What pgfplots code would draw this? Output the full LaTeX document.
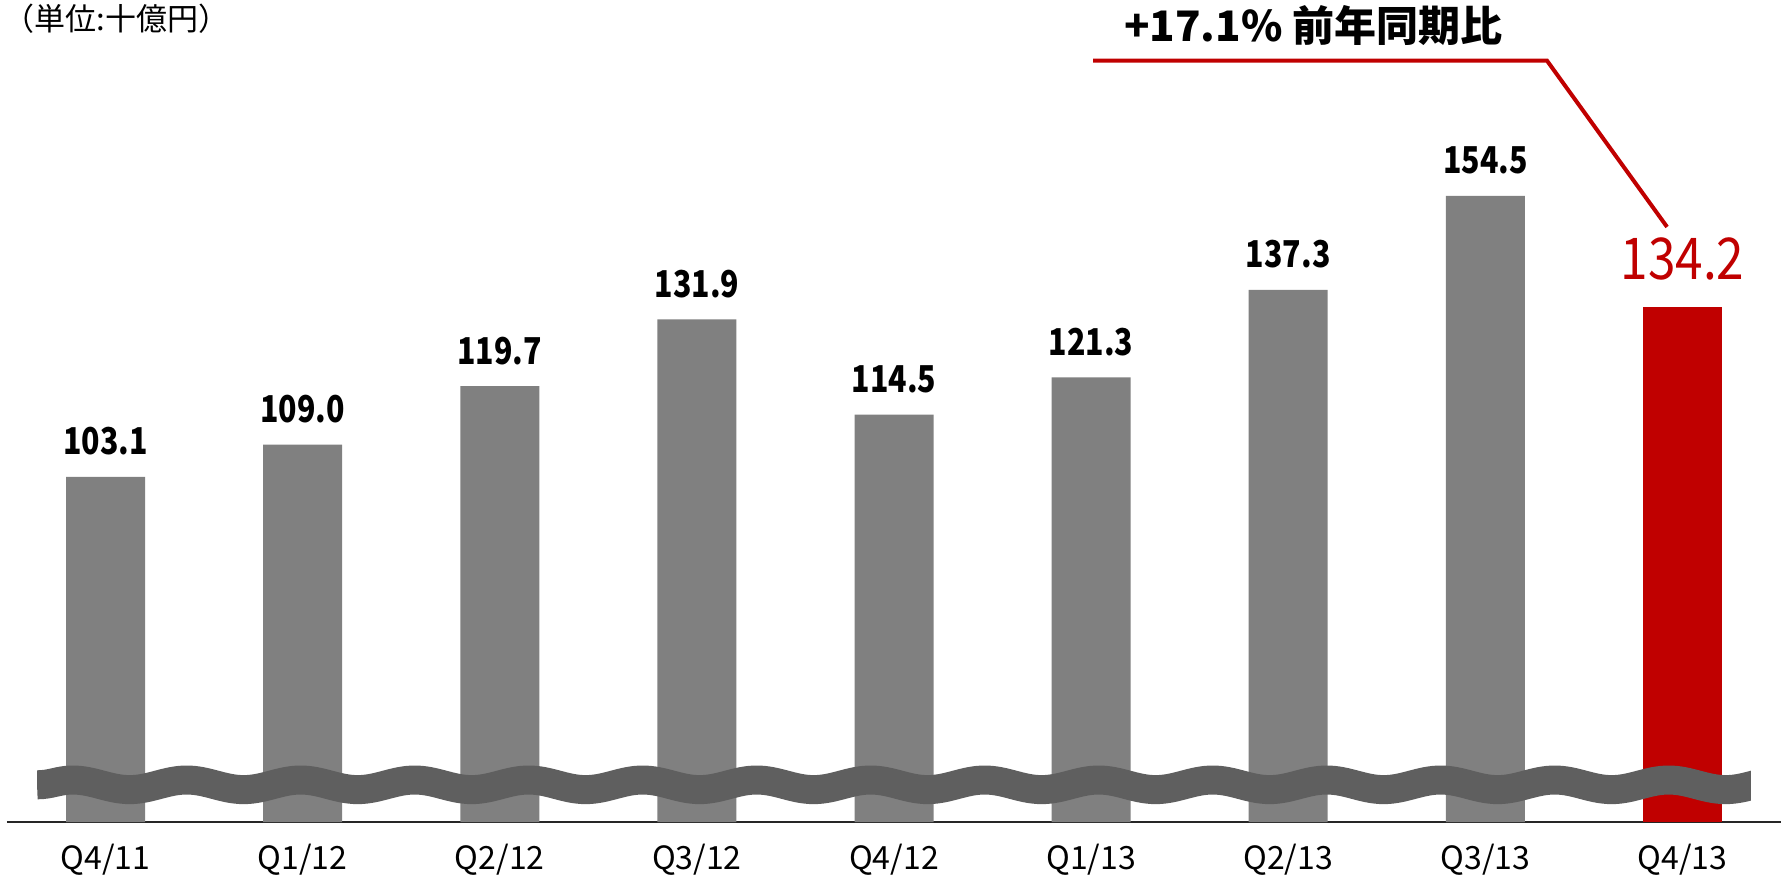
\documentclass[border=0pt]{standalone}
\usepackage{pgfplots}
\pgfplotsset{compat=1.18}
\usepackage{fontspec}
\setmainfont{Noto Sans CJK JP}
\newfontfamily\condfont[FakeStretch=0.82]{Noto Sans CJK JP}
\newfontfamily\redfont[FakeStretch=0.86]{Noto Sans CJK JP}
\usetikzlibrary{decorations.pathmorphing}
\definecolor{barg}{HTML}{808080}
\definecolor{wred}{HTML}{C00000}
\definecolor{wavec}{HTML}{5F5F5F}
\begin{document}
\begin{tikzpicture}
\useasboundingbox (0,0) rectangle (890.5pt,437.5pt);
\begin{axis}[
 at={(3.5pt,26.5pt)}, anchor=south west,
 width=887pt, height=411pt, scale only axis,
 xmin=-0.5, xmax=8.5, ymin=40, ymax=190.3,
 axis x line=bottom, axis y line=none,
 x axis line style={-, line width=0.8pt, color=black!85},
 xtick={0,...,8},
 xticklabels={Q4/11,Q1/12,Q2/12,Q3/12,Q4/12,Q1/13,Q2/13,Q3/13,Q4/13},
 major tick length=0pt,
 xticklabel style={font=\fontsize{16}{16}\selectfont, anchor=base, yshift=-23.5pt, inner sep=0pt},
 ytick=\empty,
 clip=false,
 ybar, bar width=39.5pt, bar shift=0pt,
]
\addplot[fill=barg, draw=none, nodes near coords, point meta=explicit symbolic,
  every node near coord/.append style={font=\condfont\bfseries\fontsize{18.5}{18.5}\selectfont, text=black, anchor=base, yshift=11pt, inner sep=0pt}]
 coordinates {(0,103.1)[103.1] (1,109.0)[109.0] (2,119.7)[119.7] (3,131.9)[131.9] (4,114.5)[114.5] (5,121.3)[121.3] (6,137.3)[137.3] (7,154.5)[154.5]};
\addplot[fill=wred, draw=none, nodes near coords, point meta=explicit symbolic,
  every node near coord/.append style={font=\redfont\fontsize{28.8}{28.8}\selectfont, text=wred, anchor=base, yshift=13.5pt, inner sep=0pt}]
 coordinates {(8,134.2)[134.2]};
\begin{scope}
\clip (axis cs:-0.3475,30) rectangle (axis cs:8.347,70);
\draw[wavec, line width=14.5pt, decorate, decoration={snake, segment length=57pt, amplitude=2.4pt}]
 (axis cs:-0.3475,46.8) -- (axis cs:10,46.8);
\end{scope}
\draw[wred, line width=2pt] (axis cs:5.010,179.2) -- (axis cs:7.313,179.2) -- (axis cs:7.922,148.8);
\node[anchor=base, font=\bfseries\fontsize{21}{21}\selectfont, inner sep=0pt] at (axis cs:6.126,182.8) {+17.1\% 前年同期比};
\node[anchor=base west, font=\fontsize{15.5}{15.5}\selectfont, inner sep=0pt] at (axis cs:-0.52,184.8) {（単位:十億円）};
\end{axis}
\end{tikzpicture}
\end{document}
